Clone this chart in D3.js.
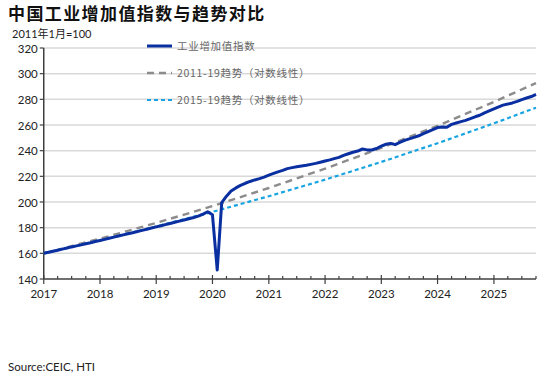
<!DOCTYPE html>
<html>
<head>
<meta charset="utf-8">
<script src="https://cdn.jsdelivr.net/npm/d3@7"></script>
<style>
  body { margin: 0; background: #fff; }
  svg { display: block; }
</style>
</head>
<body>
<script>
// monthly index, 2017-01 .. 2025-10 (2011年1月=100)
const firstMonth = "2017-01";
const indexValues = [
  // 2017
  160.0, 160.8, 161.6, 162.4, 163.3, 164.1, 165.0, 165.8, 166.6, 167.5, 168.3, 169.2,
  // 2018
  170.0, 170.9, 171.7, 172.6, 173.5, 174.4, 175.3, 176.1, 177.0, 177.9, 178.8, 179.7,
  // 2019
  180.6, 181.5, 182.4, 183.3, 184.2, 185.1, 186.0, 186.9, 187.9, 189.0, 190.6, 192.4,
  // 2020
  190.0, 147.0, 199.5, 204.5, 208.5, 211.0, 213.0, 214.6, 216.0, 217.2, 218.2, 219.4,
  // 2021
  221.0, 222.3, 223.5, 224.6, 226.0, 226.8, 227.4, 228.0, 228.6, 229.3, 230.1, 231.0,
  // 2022
  232.0, 232.8, 233.8, 234.8, 236.3, 237.6, 238.8, 239.7, 241.3, 240.6, 240.5, 241.7,
  // 2023
  243.5, 245.0, 245.7, 244.7, 246.4, 248.0, 249.2, 250.4, 251.6, 253.2, 254.8, 256.4,
  // 2024
  258.0, 258.5, 258.3, 260.5, 261.6, 262.6, 263.6, 265.0, 266.4, 267.6, 269.5, 271.0,
  // 2025
  272.6, 274.2, 275.5, 276.3, 277.2, 278.4, 279.8, 281.0, 282.2, 283.8,
];

// trend lines read at the start of each year and at the last month
const trendDates = ["2017-01", "2018-01", "2019-01", "2020-01", "2021-01", "2022-01",
  "2023-01", "2024-01", "2025-01", "2025-10"];
const trend1119 = [160.0, 171.4, 183.7, 196.8, 210.9, 226.0, 242.1, 259.4, 278.0, 292.7];
const trend1519 = [160.0, 170.1, 180.9, 192.3, 204.5, 217.4, 231.2, 245.8, 261.3, 273.5];

const yearTicks = [2017, 2018, 2019, 2020, 2021, 2022, 2023, 2024, 2025];
const yTicks = [140, 160, 180, 200, 220, 240, 260, 280, 300, 320];

const legendItems = [
  { label: "工业增加值指数", color: "#0a2fa0", dash: null, width: 3 },
  { label: "2011-19趋势（对数线性）", color: "#8c8c8c", dash: "7,5", width: 2.4 },
  { label: "2015-19趋势（对数线性）", color: "#18a4e0", dash: "4,3", width: 2.2 },
];

const parseMonth = d3.timeParse("%Y-%m");
const start = parseMonth(firstMonth);

const indexData = indexValues.map((v, i) => ({ date: d3.timeMonth.offset(start, i), value: v }));
const trendA = trendDates.map((d, i) => ({ date: parseMonth(d), value: trend1119[i] }));
const trendB = trendDates.map((d, i) => ({ date: parseMonth(d), value: trend1519[i] }));

const width = 550;
const height = 378;
const plotLeft = 43.75;
const plotRight = 536;
const plotTop = 48;
const plotBottom = 279;

const svg = d3
  .select("body")
  .append("svg")
  .attr("width", width)
  .attr("height", height);

const x = d3
  .scaleTime()
  .domain([start, indexData[indexData.length - 1].date])
  .range([plotLeft, plotRight]);

const y = d3.scaleLinear().domain([140, 320]).range([plotBottom, plotTop]);

const tickFont = "Lato, 'Liberation Sans', sans-serif";

// gridlines
svg
  .append("g")
  .selectAll("line")
  .data(yTicks.filter((t) => t > 140))
  .enter()
  .append("line")
  .attr("x1", plotLeft)
  .attr("x2", plotRight)
  .attr("y1", (d) => y(d))
  .attr("y2", (d) => y(d))
  .attr("stroke", "#d9d9d9")
  .attr("stroke-width", 1.5);

// title
svg
  .append("text")
  .attr("x", 8)
  .attr("y", 20)
  .style("font-family", "'Noto Sans CJK SC', sans-serif")
  .style("font-weight", "bold")
  .style("font-size", "17px")
  .style("letter-spacing", "1.4px")
  .attr("fill", "#111")
  .text("中国工业增加值指数与趋势对比");

svg
  .append("text")
  .attr("x", 12)
  .attr("y", 38)
  .style("font-family", tickFont + ", 'Noto Sans CJK SC'")
  .style("font-size", "11px")
  .attr("fill", "#222")
  .text("2011年1月=100");

// legend
const legend = svg
  .append("g")
  .selectAll("g")
  .data(legendItems)
  .enter()
  .append("g")
  .attr("transform", (d, i) => `translate(147,${46 + i * 27})`);

legend
  .append("line")
  .attr("x1", 0)
  .attr("x2", 25)
  .attr("stroke", (d) => d.color)
  .attr("stroke-width", (d) => d.width)
  .attr("stroke-dasharray", (d) => d.dash);

legend
  .append("text")
  .attr("x", 30)
  .attr("y", 4)
  .style("font-family", "'Noto Sans CJK SC', sans-serif")
  .style("font-size", "10.5px")
  .style("letter-spacing", "0.7px")
  .attr("fill", "#666")
  .text((d) => d.label);

// y axis
const yAxis = svg.append("g");
yAxis
  .append("line")
  .attr("x1", plotLeft)
  .attr("x2", plotLeft)
  .attr("y1", plotTop)
  .attr("y2", plotBottom)
  .attr("stroke", "#404040")
  .attr("stroke-width", 1.5);
yAxis
  .selectAll(".ytick")
  .data(yTicks)
  .enter()
  .append("line")
  .attr("x1", plotLeft - 4)
  .attr("x2", plotLeft)
  .attr("y1", (d) => y(d))
  .attr("y2", (d) => y(d))
  .attr("stroke", "#404040")
  .attr("stroke-width", 1.2);
yAxis
  .selectAll(".ylabel")
  .data(yTicks)
  .enter()
  .append("text")
  .attr("x", plotLeft - 6)
  .attr("y", (d) => y(d) + 4.5)
  .attr("text-anchor", "end")
  .style("font-family", tickFont)
  .style("font-size", "11.5px")
  .attr("fill", "#222")
  .text((d) => d);

// x axis
const xAxis = svg.append("g");
xAxis
  .append("line")
  .attr("x1", plotLeft)
  .attr("x2", plotRight)
  .attr("y1", plotBottom)
  .attr("y2", plotBottom)
  .attr("stroke", "#404040")
  .attr("stroke-width", 1.5);

const quarters = d3.timeMonth.every(3).range(start, d3.timeMonth.offset(x.domain()[1], 1));
xAxis
  .selectAll(".minor")
  .data(quarters.filter((d) => d.getMonth() !== 0))
  .enter()
  .append("line")
  .attr("x1", (d) => x(d))
  .attr("x2", (d) => x(d))
  .attr("y1", plotBottom - 3)
  .attr("y2", plotBottom)
  .attr("stroke", "#404040")
  .attr("stroke-width", 1.2);

xAxis
  .selectAll(".major")
  .data(yearTicks)
  .enter()
  .append("line")
  .attr("x1", (d) => x(new Date(d, 0, 1)))
  .attr("x2", (d) => x(new Date(d, 0, 1)))
  .attr("y1", plotBottom - 4)
  .attr("y2", plotBottom + 5)
  .attr("stroke", "#404040")
  .attr("stroke-width", 1.2);

xAxis
  .selectAll(".xlabel")
  .data(yearTicks)
  .enter()
  .append("text")
  .attr("x", (d) => x(new Date(d, 0, 1)))
  .attr("y", plotBottom + 19)
  .attr("text-anchor", "middle")
  .style("font-family", tickFont)
  .style("font-size", "11.5px")
  .attr("fill", "#222")
  .text((d) => d);

// lines
const line = d3
  .line()
  .x((d) => x(d.date))
  .y((d) => y(d.value));

svg
  .append("path")
  .datum(trendA)
  .attr("fill", "none")
  .attr("stroke", legendItems[1].color)
  .attr("stroke-width", 2.4)
  .attr("stroke-dasharray", legendItems[1].dash)
  .attr("d", line);

svg
  .append("path")
  .datum(trendB)
  .attr("fill", "none")
  .attr("stroke", legendItems[2].color)
  .attr("stroke-width", 2.2)
  .attr("stroke-dasharray", legendItems[2].dash)
  .attr("d", line);

svg
  .append("path")
  .datum(indexData)
  .attr("fill", "none")
  .attr("stroke", legendItems[0].color)
  .attr("stroke-width", 3)
  .attr("stroke-linejoin", "round")
  .attr("d", line);

// source
svg
  .append("text")
  .attr("x", 8)
  .attr("y", 371)
  .style("font-family", tickFont)
  .style("font-size", "11.5px")
  .attr("fill", "#222")
  .text("Source:CEIC, HTI");
</script>
</body>
</html>
